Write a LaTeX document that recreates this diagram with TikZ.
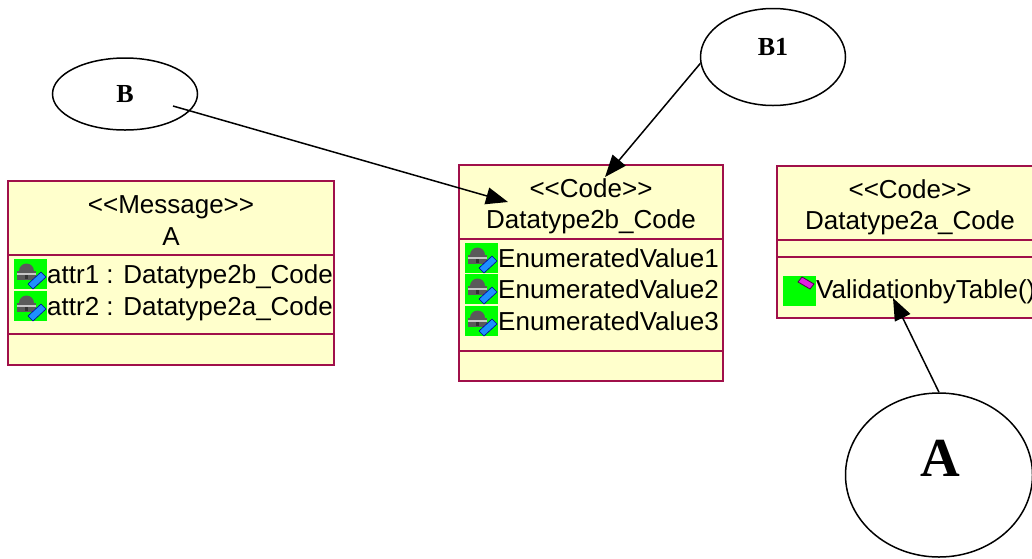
\documentclass[tikz,border=0pt]{standalone}
\usepackage{fontspec}
\setmainfont{Liberation Serif}
\newfontfamily\umlfont{Liberation Sans}
\usepackage{tikz}
\usetikzlibrary{arrows.meta,shapes.geometric}

\definecolor{classfill}{HTML}{FFFFCC}
\definecolor{classline}{HTML}{A0104A}
\definecolor{icongreen}{HTML}{00FF00}
\definecolor{penblue}{HTML}{1E90FF}
\definecolor{lockgray}{HTML}{5A5A5A}
\definecolor{opmagenta}{HTML}{E020E0}

\newcommand{\stereo}[1]{<\kern0pt<#1>\kern0pt>}

\tikzset{
  classbox/.style={draw=classline, fill=classfill, line width=1.2pt, anchor=north west, inner sep=0pt, outer sep=0pt},
  sepline/.style={draw=classline, line width=1.2pt},
  headtext/.style={anchor=base, inner sep=0pt, font=\umlfont\fontsize{26}{31}\selectfont},
  rowtext/.style={anchor=base west, inner sep=0pt, font=\umlfont\fontsize{26}{31}\selectfont},
  bubble/.style={draw, ellipse, line width=1.5pt, inner sep=0pt},
  bubbletext/.style={inner sep=0pt, font=\bfseries\fontsize{26}{30}\selectfont},
  link/.style={line width=1.5pt, -{Triangle[length=22pt,width=17pt]}},
  attricon/.pic={
    \fill[icongreen] (0,0) rectangle (33,30);
    \fill[lockgray] (5,12) arc[start angle=180,end angle=360,radius=7.5] -- cycle;
    \fill[lockgray] (3,12) rectangle (22,21);
    \fill[gray!45] (3,13.5) rectangle (22,15.5);
    \fill[black!80] (11,16) rectangle (14,20);
    \filldraw[fill=penblue, draw=blue!60!black, line width=0.6pt] (14,25) -- (27,13) -- (32,18) -- (19,30) -- cycle;
  },
  opicon/.pic={
    \fill[icongreen] (0,0) rectangle (33,30);
    \filldraw[fill=opmagenta, draw=violet!60!black, line width=0.8pt] (15,6) -- (19,1) -- (31,8) -- (27,13) -- cycle;
  }
}

\begin{document}
\begin{tikzpicture}[x=1pt,y=-1pt]
  \useasboundingbox (0,0) rectangle (1032,558);
  \clip (0,0) rectangle (1032,558);

  \node[bubble, minimum width=145, minimum height=72] (bubB) at (125,94) {};
  \node[bubbletext] (bubBtext) at (125,94) {B};
  \node[bubble, minimum width=145, minimum height=97] (bubB1) at (773,57) {};
  \node[bubbletext] (bubB1text) at (773,47) {B1};
  \node[bubble, minimum width=187, minimum height=164] (bubA) at (939,475) {};
  \node[bubbletext, font=\bfseries\fontsize{55}{60}\selectfont] (bubAtext) at (940,458) {A};

  \node[classbox, minimum width=326, minimum height=184] (msgA) at (8,181) {};
  \draw[sepline] ([yshift=-74pt]msgA.north west) -- ([yshift=-74pt]msgA.north east);
  \draw[sepline] ([yshift=-153pt]msgA.north west) -- ([yshift=-153pt]msgA.north east);
  \node[headtext] (msgAstereo) at (171,213) {\stereo{Message}};
  \node[headtext] (msgAname) at (171,245) {A};
  \pic (msgAicon1) at (14,259) {attricon};
  \node[rowtext] (msgAattr1) at (47,283) {attr1 : Datatype2b\_Code};
  \pic (msgAicon2) at (14,291) {attricon};
  \node[rowtext] (msgAattr2) at (47,315) {attr2 : Datatype2a\_Code};

  \node[classbox, minimum width=264, minimum height=216] (codeB) at (459,165) {};
  \draw[sepline] ([yshift=-74pt]codeB.north west) -- ([yshift=-74pt]codeB.north east);
  \draw[sepline] ([yshift=-186pt]codeB.north west) -- ([yshift=-186pt]codeB.north east);
  \node[headtext] (codeBstereo) at (591,197) {\stereo{Code}};
  \node[headtext] (codeBname) at (591,228) {Datatype2b\_Code};
  \foreach \i/\y in {1/267,2/298,3/330} {
    \pic (codeBicon\i) at (465,\y-24) {attricon};
    \node[rowtext] (codeBval\i) at (498,\y) {EnumeratedValue\i};
  }

  \node[classbox, minimum width=266, minimum height=152] (codeC) at (777,166) {};
  \draw[sepline] ([yshift=-74pt]codeC.north west) -- ([yshift=-74pt]codeC.north east);
  \draw[sepline] ([yshift=-91pt]codeC.north west) -- ([yshift=-91pt]codeC.north east);
  \node[headtext] (codeCstereo) at (910,198) {\stereo{Code}};
  \node[headtext] (codeCname) at (910,229) {Datatype2a\_Code};
  \pic (codeCicon) at (783,276) {opicon};
  \node[rowtext] (codeCop) at (816,298) {ValidationbyTable()};

  \coordinate (bStart) at (173,106);
  \coordinate (codeBtipB) at (508,202);
  \coordinate (codeBtipB1) at (605,177);
  \coordinate (codeCtipA) at (893,298);
  \draw[link] (bStart) -- (codeBtipB);
  \draw[link] (bubB1.185) -- (codeBtipB1);
  \draw[link] (bubA.north) -- (codeCtipA);
\end{tikzpicture}
\end{document}
